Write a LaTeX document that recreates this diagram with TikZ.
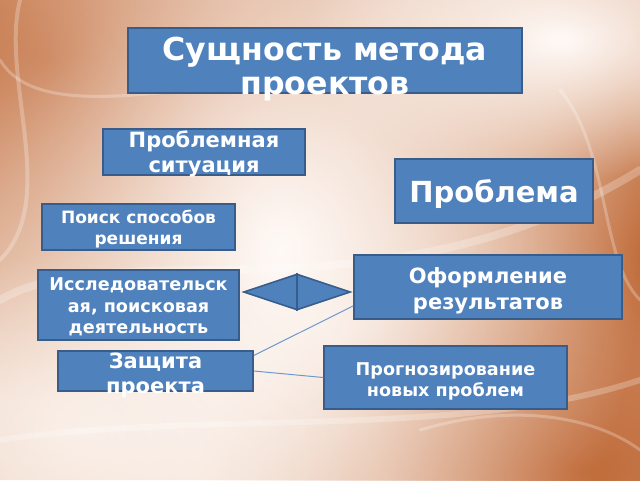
\documentclass[tikz,border=0pt]{standalone}
\usepackage{fontspec}
\setmainfont{DejaVu Sans}
\usetikzlibrary{shapes.geometric,fadings}

\definecolor{boxblue}{RGB}{79,129,189}
\definecolor{boxline}{RGB}{56,93,138}
\definecolor{linkblue}{RGB}{110,152,208}
\definecolor{bgbrown}{RGB}{192,106,56}
\definecolor{bgpeach}{RGB}{238,212,194}
\definecolor{bglight}{RGB}{255,250,247}

\tikzfading[name=blob, inner color=transparent!0, outer color=transparent!100]

\tikzset{
  box/.style={rectangle, draw=boxline, fill=boxblue, line width=0.8pt, inner sep=0pt},
  lbl/.style={text=white, font=\bfseries, align=center, inner sep=0pt},
  link/.style={draw=linkblue, line width=0.5pt},
  swirl/.style={white, opacity=.25, line cap=round}
}

\begin{document}
\begin{tikzpicture}[x=0.5pt, y=-0.5pt]

      \useasboundingbox (0,0) rectangle (640,480);
      % background
      \fill[bgpeach] (0,0) rectangle (640,480);
      \fill[bgbrown, path fading=blob] (50,60) ellipse (500 and 340);
      \fill[bgbrown, path fading=blob] (650,260) ellipse (320 and 380);
      \fill[bgbrown, path fading=blob] (580,470) ellipse (380 and 200);
      \fill[bglight, path fading=blob] (280,250) ellipse (360 and 480);
      \fill[bglight, path fading=blob] (560,40) ellipse (260 and 140);
      \fill[bglight, opacity=.6, path fading=blob] (80,430) ellipse (280 and 180);
      \draw[swirl, line width=1.5pt] (0,60) .. controls (30,110) and (120,100) .. (260,80);
      \draw[swirl, line width=2pt] (20,0) .. controls (0,80) and (60,200) .. (0,260);
      \draw[swirl, line width=4pt] (0,300) .. controls (120,230) and (380,330) .. (640,170);
      \draw[swirl, line width=1.5pt] (560,90) .. controls (610,150) and (600,260) .. (640,300);
      \draw[swirl, line width=3pt] (0,440) .. controls (200,410) and (460,440) .. (640,380);
      \draw[swirl, line width=1.5pt] (420,430) .. controls (520,400) and (600,420) .. (640,450);

      \begin{scope}[every node/.style={box}]
        \node[minimum width=197pt, minimum height=32.5pt] (sut) at (325,60.5) {};
        \node[minimum width=101pt, minimum height=23pt] (sit) at (204,152) {};
        \node[minimum width=99pt, minimum height=32pt] (probl) at (494,191) {};
        \node[minimum width=96.5pt, minimum height=23pt] (poisk) at (138.5,227) {};
        \node[minimum width=100.5pt, minimum height=35pt] (issl) at (138.5,305) {};
        \node[minimum width=134pt, minimum height=32pt] (oform) at (488,287) {};
        \node[minimum width=97.5pt, minimum height=20pt] (zasch) at (155.5,371) {};
        \node[minimum width=121.5pt, minimum height=31.5pt] (prog) at (445.5,377.5) {};
        \node[diamond, minimum width=53.5pt, minimum height=18pt] (romb) at (297,292) {};
      \end{scope}

      \draw[boxline, line width=0.8pt] (romb.north) -- (romb.south);

      \begin{scope}[every node/.style={lbl}]
        \node[font=\bfseries\fontsize{15.8}{16.8}\selectfont] (sut-t) at (325,69) {Сущность метода\\проектов};
        \node[font=\bfseries\fontsize{10.5}{12.5}\selectfont] (sit-t) at (204,154) {Проблемная\\ситуация};
        \node[font=\bfseries\fontsize{14.5}{16}\selectfont] (probl-t) at (494,194) {Проблема};
        \node[font=\bfseries\fontsize{8.5}{10.5}\selectfont] (poisk-t) at (138.5,229) {Поиск способов\\решения};
        \node[font=\bfseries\fontsize{8.8}{10.75}\selectfont] (issl-t) at (138.5,307) {Исследовательск\\ая, поисковая\\деятельность};
        \node[font=\bfseries\fontsize{10.5}{13}\selectfont] (oform-t) at (488,291) {Оформление\\результатов};
        \node[font=\bfseries\fontsize{10.5}{12.5}\selectfont] (zasch-t) at (155.5,375) {Защита\\проекта};
        \node[font=\bfseries\fontsize{8.8}{10.5}\selectfont] (prog-t) at (445.5,381) {Прогнозирование\\новых проблем};
      \end{scope}

      \path[link] (zasch.9) -- (oform.188);
      \path[link] (zasch.east) -- (prog.west);

    \end{tikzpicture}
\end{document}
